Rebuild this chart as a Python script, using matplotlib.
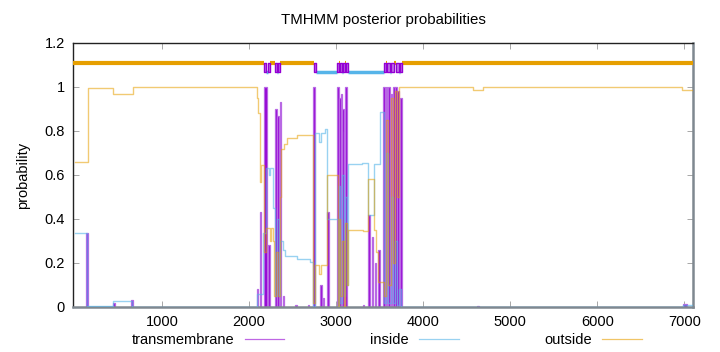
import matplotlib
matplotlib.use('Agg')
import matplotlib.pyplot as plt
from matplotlib.lines import Line2D

plt.rcParams['font.family'] = ['Liberation Sans', 'DejaVu Sans']

PURPLE = '#9400d3'
BLUE = '#56b4e9'
ORANGE = '#e69f00'

# outside probability (orange), breakpoints
out_pos = [0, 153, 440, 669, 2086, 2105, 2120, 2135, 2173, 2190, 2240, 2255,
           2273, 2290, 2310, 2330, 2350, 2365, 2400, 2430, 2545, 2736, 2760,
           2805, 2830, 2890, 3020, 3035, 3050, 3068, 3085, 3105, 3120, 3138,
           3310, 3370, 3433, 3455, 3482, 3551, 3575, 3600, 3625, 3650, 3675,
           3700, 3725, 3762, 4570, 4684, 6977, 7100]
out_val = [0.66, 0.995, 0.967, 0.998, 0.95, 0.88, 0.57, 0.645, 0.25, 0.36,
           0.30, 0.36, 0.30, 0.05, 0.25, 0.05, 0.5, 0.72, 0.74, 0.767, 0.78,
           0.02, 0.19, 0.15, 0.19, 0.6, 0.0, 0.4, 0.05, 0.3, 0.0, 0.38, 0.1,
           0.35, 0.345, 0.58, 0.35, 0.25, 0.115, 0.05, 0.85, 0.1, 0.95, 0.2,
           0.98, 0.5, 1.0, 0.998, 0.988, 0.998, 0.985, 0.985]

# inside probability (blue)
in_pos = [0, 134, 440, 651, 2090, 2155, 2200, 2225, 2240, 2277, 2300, 2320,
          2340, 2360, 2391, 2411, 2550, 2698, 2736, 2760, 2805, 2825, 2870,
          2890, 3020, 3035, 3050, 3068, 3085, 3105, 3120, 3131, 3300, 3367,
          3433, 3502, 3551, 3575, 3600, 3625, 3650, 3675, 3700, 3725, 3745,
          6990, 7100]
in_val = [0.335, 0.005, 0.029, 0.002, 0.06, 0.335, 0.63, 0.6, 0.63, 0.45,
          0.05, 0.4, 0.05, 0.3, 0.26, 0.23, 0.22, 0.206, 0.0, 0.79, 0.75,
          0.79, 0.81, 0.40, 0.0, 0.55, 0.02, 0.6, 0.05, 0.5, 0.1, 0.65, 0.655,
          0.42, 0.65, 0.885, 0.02, 0.7, 0.02, 0.5, 0.02, 0.3, 0.01, 0.08,
          0.002, 0.01, 0.01]

# transmembrane probability peaks: centre, width (residues), height
tm_pos = [143, 446, 657, 2097, 2130, 2190, 2228, 2306, 2331, 2360, 2395,
          2540, 2684, 2748, 2822, 2856, 2908, 3024, 3043, 3061, 3079, 3096,
          3113, 3310, 3382, 3418, 3450, 3492, 3551, 3579, 3609, 3636, 3662,
          3685, 3712, 3743, 4630, 7010]
tm_width = [24, 18, 18, 20, 18, 28, 16, 26, 22, 20, 14, 14, 16, 28, 22, 14,
            26, 20, 20, 20, 20, 20, 20, 14, 24, 20, 14, 24, 22, 22, 22, 22,
            22, 22, 22, 22, 30, 40]
tm_val = [0.335, 0.02, 0.03, 0.08, 0.43, 1.0, 0.28, 0.9, 0.87, 0.93, 0.05,
          0.01, 0.01, 1.0, 0.1, 0.04, 0.43, 1.0, 0.95, 0.97, 0.9, 0.8, 1.0,
          0.01, 0.42, 0.32, 0.2, 0.26, 1.0, 1.0, 1.0, 0.97, 1.0, 1.0, 0.98,
          0.95, 0.005, 0.012]

# predicted topology (start, end)
topo_out = [(-25, 2173), (2235, 2296), (2357, 2747), (3030, 3048),
            (3102, 3117), (3575, 3590), (3665, 3690), (3762, 7100)]
topo_in = [(2195, 2213), (2316, 2337), (2770, 3013), (3066, 3084),
           (3135, 3548), (3620, 3632), (3720, 3735)]
topo_tm = [(2173, 2195), (2213, 2235), (2296, 2316), (2337, 2357),
           (2747, 2770), (3013, 3030), (3048, 3066), (3084, 3102),
           (3117, 3135), (3548, 3575), (3590, 3620), (3632, 3665),
           (3690, 3720), (3735, 3762)]

fig = plt.figure(figsize=(7.2, 3.52), dpi=100)
ax = fig.add_axes([73 / 720, 1 - 307 / 352, 620 / 720, 264 / 352])

ax.bar(tm_pos, tm_val, width=tm_width, color=PURPLE, edgecolor='#b868e4',
       linewidth=0.9, zorder=2)
ax.plot(in_pos, in_val, drawstyle='steps-post', color=BLUE, lw=1.0,
        alpha=0.6, zorder=3)
ax.plot(out_pos, out_val, drawstyle='steps-post', color=ORANGE, lw=1.0,
        alpha=0.55, zorder=4)

# topology band on top
ax.hlines([1.107] * len(topo_out), [s for s, e in topo_out],
          [e for s, e in topo_out], color=ORANGE, lw=3, zorder=5)
ax.hlines([1.068] * len(topo_in), [s for s, e in topo_in],
          [e for s, e in topo_in], color=BLUE, lw=2.5, zorder=5)
ax.broken_barh([(s, e - s) for s, e in topo_tm], (1.068, 0.039),
               facecolor='#c27fe6', edgecolor=PURPLE, lw=1.0, zorder=6)

ax.set_xlim(-23, 7100)
ax.set_ylim(0, 1.2)
ax.set_xticks([1000, 2000, 3000, 4000, 5000, 6000, 7000])
ax.set_yticks([0, 0.2, 0.4, 0.6, 0.8, 1.0, 1.2])
ax.set_yticklabels(['0', '0.2', '0.4', '0.6', '0.8', '1', '1.2'])
ax.tick_params(direction='in', length=4, width=0.6, color='#999999',
               top=True, right=True, labelsize=10.5, pad=6)
for s in ['left', 'top']:
    ax.spines[s].set_color('#222222')
    ax.spines[s].set_linewidth(1.0)
for s in ['bottom', 'right']:
    ax.spines[s].set_color('#7f8890')
    ax.spines[s].set_linewidth(1.8)

ax.set_ylabel('probability', fontsize=10.5, labelpad=10)
ax.set_title('TMHMM posterior probabilities', fontsize=10.8, pad=14)

handles = [Line2D([], [], color=PURPLE, lw=0.9, alpha=0.6),
           Line2D([], [], color=BLUE, lw=0.9, alpha=0.6),
           Line2D([], [], color=ORANGE, lw=0.9, alpha=0.6)]
fig.legend(handles, ['transmembrane', 'inside', 'outside'], ncol=3,
           markerfirst=False, frameon=False, fontsize=10.5,
           loc='center', bbox_to_anchor=(387 / 720, 1 - 340 / 352),
           handlelength=2.7, handletextpad=0.7, columnspacing=5.9,
           borderaxespad=0, borderpad=0)

fig.savefig('out.png', dpi=100)
